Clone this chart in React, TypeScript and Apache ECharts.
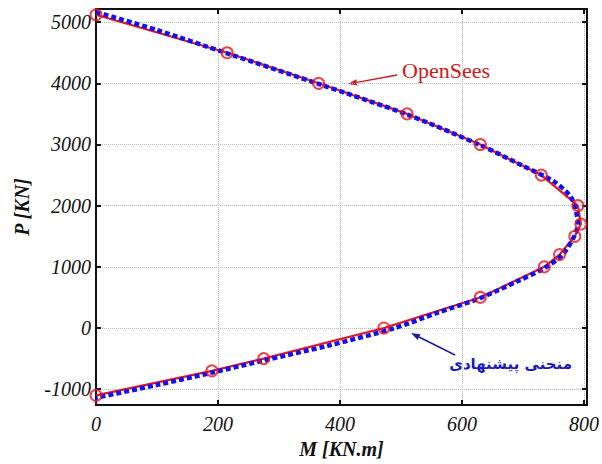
import React, { useEffect, useRef } from "react";
import * as echarts from "echarts";

// OpenSees results (red circles)
const openSeesM = [0, 215, 365, 510, 630, 730, 790, 795, 785, 760, 735, 630, 472, 275, 190, 0];
const openSeesP = [5120, 4500, 4000, 3500, 3000, 2500, 2000, 1700, 1500, 1200, 1000, 500, 0, -500, -700, -1100];

// Proposed curve (blue dashed)
const proposedM = [0, 100, 215, 365, 510, 630, 700, 750, 778, 787, 790, 784, 765, 735, 690, 630, 560, 490, 380, 275, 190, 100, 0];
const proposedP = [5165, 4870, 4490, 3990, 3490, 2990, 2650, 2400, 2150, 1900, 1700, 1500, 1200, 980, 760, 490, 250, 0, -290, -530, -730, -930, -1140];

const xTicks = [0, 200, 400, 600, 800];
const yTicks = [-1000, 0, 1000, 2000, 3000, 4000, 5000];

const xLabel = "M [KN.m]";
const yLabel = "P [KN]";
const redLabel = "OpenSees";
const blueLabel = "منحنی پیشنهادی";

function arrow(x1: number, y1: number, x2: number, y2: number, color: string) {
  const dx = x2 - x1;
  const dy = y2 - y1;
  const len = Math.sqrt(dx * dx + dy * dy);
  const ux = dx / len;
  const uy = dy / len;
  const hl = 9;
  const hw = 3.2;
  const bx = x2 - ux * hl;
  const by = y2 - uy * hl;
  const px = -uy;
  const py = ux;
  return {
    type: "group",
    children: [
      {
        type: "line",
        shape: { x1, y1, x2: bx, y2: by },
        style: { stroke: color, lineWidth: 1.5 },
      },
      {
        type: "polygon",
        shape: {
          points: [
            [x2, y2],
            [bx + px * hw, by + py * hw],
            [bx - px * hw, by - py * hw],
          ],
        },
        style: { fill: color },
      },
    ],
  };
}

export default function App() {
  const ref = useRef<HTMLDivElement>(null);
  useEffect(() => {
    if (!ref.current) return;
    const chart = echarts.init(ref.current, undefined, { renderer: "svg" });
    const serif = "'Liberation Serif', 'Times New Roman', serif";
    const tickLabel = {
      fontFamily: serif,
      fontStyle: "italic",
      fontSize: 20,
      color: "#111",
      formatter: (v: number) => String(v),
    };
    const frameLine = { show: true, onZero: false, lineStyle: { color: "#111", width: 2 } };
    const inTick = { show: true, inside: true, length: 5, lineStyle: { color: "#111", width: 2 } };
    const split = { show: true, lineStyle: { color: "#bdbdbd", type: "dotted", width: 1 } };
    const option: any = {
      animation: false,
      backgroundColor: "#fff",
      grid: { left: 96, right: 15, top: 9, bottom: 56, containLabel: false },
      xAxis: [
        {
          type: "value",
          min: 0,
          max: 805,
          position: "bottom",
          axisLine: frameLine,
          axisTick: { ...inTick, customValues: xTicks },
          axisLabel: { ...tickLabel, margin: 9, customValues: xTicks },
          splitLine: split,
          name: xLabel,
          nameLocation: "middle",
          nameGap: 33,
          nameTextStyle: { fontFamily: serif, fontStyle: "italic", fontWeight: "bold", fontSize: 20, color: "#111" },
        },
        {
          type: "value",
          min: 0,
          max: 805,
          position: "top",
          axisLine: frameLine,
          axisTick: { ...inTick, customValues: xTicks },
          axisLabel: { show: false },
          splitLine: { show: false },
        },
      ],
      yAxis: [
        {
          type: "value",
          min: -1260,
          max: 5215,
          position: "left",
          axisLine: frameLine,
          axisTick: { ...inTick, customValues: yTicks },
          axisLabel: { ...tickLabel, margin: 5, customValues: yTicks },
          splitLine: split,
          name: yLabel,
          nameLocation: "middle",
          nameGap: 64,
          nameRotate: 90,
          nameTextStyle: { fontFamily: serif, fontStyle: "italic", fontWeight: "bold", fontSize: 20, color: "#111" },
        },
        {
          type: "value",
          min: -1260,
          max: 5215,
          position: "right",
          axisLine: frameLine,
          axisTick: { ...inTick, customValues: yTicks },
          axisLabel: { show: false },
          splitLine: { show: false },
        },
      ],
      series: [
        {
          type: "line",
          name: redLabel,
          data: openSeesM.map((m, i) => [m, openSeesP[i]]),
          symbol: "none",
          lineStyle: { color: "#e8141e", width: 2.2 },
          z: 2,
        },
        {
          type: "line",
          name: "proposed",
          data: proposedM.map((m, i) => [m, proposedP[i]]),
          symbol: "none",
          smooth: 0.3,
          lineStyle: { color: "#1010f0", width: 4.5, type: [5, 3] },
          z: 3,
        },
        {
          type: "scatter",
          name: redLabel + " points",
          data: openSeesM.map((m, i) => [m, openSeesP[i]]),
          symbol: "circle",
          symbolSize: 11,
          itemStyle: { color: "transparent", borderColor: "#e8141e", borderWidth: 2 },
          z: 4,
        },
      ],
      graphic: [
        {
          type: "text",
          left: 402,
          top: 59,
          style: { text: redLabel, fontFamily: serif, fontSize: 22, fill: "#d01820" },
        },
        arrow(397, 75, 348, 84, "#d01820"),
        {
          type: "text",
          right: 30,
          top: 356,
          style: { text: blueLabel, fontFamily: "'DejaVu Sans', sans-serif", fontSize: 15, fontWeight: "bold", fill: "#1a1ac0" },
        },
        arrow(455, 355, 411, 333, "#1e1e90"),
      ],
    };
    chart.setOption(option);
    return () => chart.dispose();
  }, []);
  return (
    <div
      ref={ref}
      style={{ position: "absolute", left: 0, top: 0, width: 602, height: 464, background: "#fff" }}
    />
  );
}
